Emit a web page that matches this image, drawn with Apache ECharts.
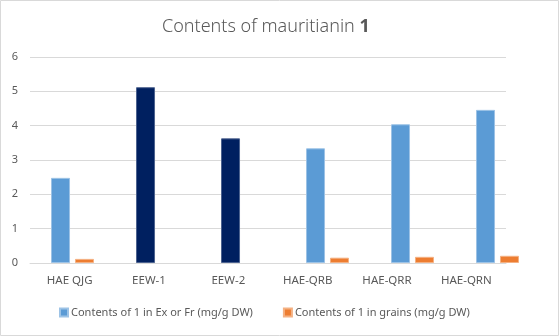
<!DOCTYPE html>
<html lang="en">
<head>
    <meta charset="utf-8">
    <title>Contents of mauritianin 1</title>
    <script src="https://cdn.jsdelivr.net/npm/echarts@6/dist/echarts.min.js"></script>
    <style>
        body { margin: 0; }
        #chart { width: 559px; height: 336px; }
    </style>
</head>
<body>
    <div id="chart"></div>
<script type="text/javascript">
    // values
    const categories = ['HAE QJG', 'EEW-1', 'EEW-2', 'HAE-QRB', 'HAE-QRR', 'HAE-QRN'];
    const exFr = [2.48, 5.12, 3.63, 3.34, 4.04, 4.46];
    const grains = [0.12, '-', '-', 0.155, 0.18, 0.21];
    const darkCats = ['EEW-1', 'EEW-2']; // drawn in navy in the original
    const yTicks = { min: 0, max: 6, interval: 1 };

    const txt = '#595959';
    const line = '#d9d9d9';
    const font = 'Noto Sans';

    let chart = echarts.init(document.getElementById('chart'));
    let option = {
        animation: false,
        textStyle: { fontFamily: font },
        title: {
            text: '{a|Contents of mauritianin }{b|1}',
            left: 157,
            top: 13,
            textStyle: {
                rich: {
                    a: { fontSize: 18, color: txt, fontFamily: font, fontWeight: 300 },
                    b: { fontSize: 18, color: txt, fontFamily: font, fontWeight: 'bold' }
                }
            }
        },
        legend: {
            left: 54,
            top: 302,
            itemWidth: 8,
            itemHeight: 8,
            itemGap: 30,
            icon: 'rect',
            textStyle: { color: txt, fontSize: 11, padding: [0, 0, 0, -2] }
        },
        graphic: [{
            type: 'rect',
            shape: { x: 0.5, y: 0.5, width: 558, height: 335 },
            style: { fill: 'none', stroke: line, lineWidth: 1 },
            silent: true
        }],
        grid: [
            { left: 30, right: 53, top: 57, bottom: 73 },
            { left: 30, width: 510, top: 57, bottom: 73 }
        ],
        xAxis: [{
            gridIndex: 0,
            type: 'category',
            data: categories,
            axisLine: { lineStyle: { color: line } },
            axisTick: { show: false },
            axisLabel: { color: txt, fontSize: 11.5, margin: 12 }
        }, {
            gridIndex: 1,
            type: 'category',
            data: categories,
            show: false
        }],
        yAxis: [{
            gridIndex: 0,
            type: 'value',
            min: yTicks.min,
            max: yTicks.max,
            interval: yTicks.interval,
            axisLabel: { color: txt, fontSize: 11, margin: 12 },
            splitLine: { lineStyle: { color: line } }
        }, {
            gridIndex: 1,
            type: 'value',
            min: yTicks.min,
            max: yTicks.max,
            show: false
        }],
        series: [{
            name: 'Contents of 1 in Ex or Fr (mg/g DW)',
            type: 'bar',
            xAxisIndex: 1,
            yAxisIndex: 1,
            barWidth: 19,
            barGap: '26%',
            itemStyle: { color: '#5B9BD5', borderColor: '#9dc3e6', borderWidth: 1 },
            data: exFr.map((v, i) => darkCats.includes(categories[i])
                ? { value: v, itemStyle: { color: '#002060', borderColor: '#4d6390' } }
                : v)
        }, {
            name: 'Contents of 1 in grains (mg/g DW)',
            type: 'bar',
            xAxisIndex: 1,
            yAxisIndex: 1,
            barWidth: 19,
            itemStyle: { color: '#ED7D31', borderColor: '#f4b183', borderWidth: 1 },
            data: grains
        }]
    };
    chart.setOption(option);
</script>
</body>
</html>
